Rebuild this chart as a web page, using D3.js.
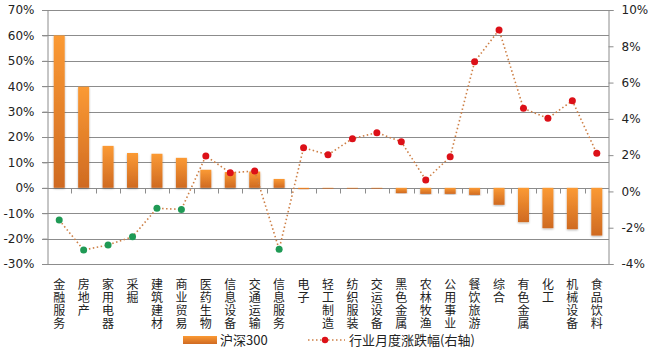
<!DOCTYPE html>
<html lang="zh">
<head>
  <meta charset="UTF-8">
  <title>行业月度涨跌幅</title>
  <script src="https://d3js.org/d3.v7.min.js"></script>
  <style>
    body { margin: 0; background: #fff; }
    svg { display: block; }
    .tick text { font-family: "DejaVu Sans", sans-serif; font-size: 12px; fill: #222; }
    .cat { font-family: "Noto Sans CJK SC", sans-serif; font-size: 12px; fill: #222; }
    .leg { font-family: "Noto Sans CJK SC", sans-serif; font-size: 13px; fill: #222; }
  </style>
</head>
<body>
<svg width="650" height="350"></svg>

<script>
  const categories = ["金融服务", "房地产", "家用电器", "采掘", "建筑建材", "商业贸易", "医药生物",
    "信息设备", "交通运输", "信息服务", "电子", "轻工制造", "纺织服装", "交运设备", "黑色金属",
    "农林牧渔", "公用事业", "餐饮旅游", "综合", "有色金属", "化工", "机械设备", "食品饮料"];

  // 沪深300 (left axis)
  const hs300 = [0.600, 0.398, 0.165, 0.137, 0.134, 0.118, 0.071, 0.062, 0.064, 0.035, -0.005,
    -0.001, -0.003, -0.003, -0.021, -0.024, -0.024, -0.028, -0.067, -0.135, -0.159, -0.163, -0.188];

  // 行业月度涨跌幅 (right axis)
  const monthly = [-0.0158, -0.0323, -0.0295, -0.025, -0.0093, -0.0099, 0.0195, 0.0103, 0.0112,
    -0.0319, 0.0241, 0.0202, 0.0291, 0.0324, 0.0274, 0.0063, 0.0191, 0.0715, 0.089, 0.0458,
    0.0403, 0.050, 0.021];

  const leftTicks = [-0.3, -0.2, -0.1, 0, 0.1, 0.2, 0.3, 0.4, 0.5, 0.6, 0.7];
  const rightTicks = [-0.04, -0.02, 0, 0.02, 0.04, 0.06, 0.08, 0.10];

  const svg = d3.select("svg");
  const plotL = 47, plotR = 609, plotT = 10, plotB = 264;

  const x = d3.scaleBand().domain(categories).range([plotL, plotR])
    .paddingInner(0.55).paddingOuter(0.275);
  const step = x.step();
  const y = d3.scaleLinear().domain([-0.3, 0.7]).range([plotB, plotT]);
  const y2 = d3.scaleLinear().domain([-0.04, 0.10]).range([plotB, plotT]);
  const pct = d => d3.format(".0%")(d).replace("−", "-");

  const defs = svg.append("defs");
  const grad = defs.append("linearGradient").attr("id", "barGrad")
    .attr("x1", 0).attr("y1", 0).attr("x2", 0).attr("y2", 1);
  grad.append("stop").attr("offset", "0%").attr("stop-color", "#fb9a34");
  grad.append("stop").attr("offset", "100%").attr("stop-color", "#cf6a22");

  const shadow = defs.append("filter").attr("id", "glow")
    .attr("x", "-50%").attr("y", "-10%").attr("width", "200%").attr("height", "120%");
  shadow.append("feGaussianBlur").attr("in", "SourceAlpha").attr("stdDeviation", 1.2).attr("result", "b");
  shadow.append("feOffset").attr("in", "b").attr("dy", 1).attr("result", "o");
  shadow.append("feComponentTransfer").attr("in", "o").attr("result", "s")
    .append("feFuncA").attr("type", "linear").attr("slope", 0.3);
  const merge = shadow.append("feMerge");
  merge.append("feMergeNode").attr("in", "s");
  merge.append("feMergeNode").attr("in", "SourceGraphic");

  // gridlines
  svg.append("g").selectAll("line").data(leftTicks).join("line")
    .attr("x1", plotL - 5).attr("x2", plotR)
    .attr("y1", d => Math.round(y(d)) + 0.5).attr("y2", d => Math.round(y(d)) + 0.5)
    .attr("stroke", "#8c8c8c");

  // left axis
  const yAxis = svg.append("g").attr("transform", `translate(${plotL + 0.5},0)`)
    .call(d3.axisLeft(y).tickValues(leftTicks).tickFormat(pct).tickSize(5).tickPadding(8));
  yAxis.selectAll("path, line").attr("stroke", "#8c8c8c");

  // right axis
  const y2Axis = svg.append("g").attr("transform", `translate(${plotR - 0.5},0)`)
    .call(d3.axisRight(y2).tickValues(rightTicks).tickFormat(pct).tickSize(5).tickPadding(8));
  y2Axis.selectAll("path, line").attr("stroke", "#8c8c8c");

  // category ticks on zero line
  const y0 = Math.round(y(0)) + 0.5;
  svg.append("g").selectAll("line").data(categories.slice(1)).join("line")
    .attr("x1", d => Math.round(x(d) - (step - x.bandwidth()) / 2) + 0.5)
    .attr("x2", d => Math.round(x(d) - (step - x.bandwidth()) / 2) + 0.5)
    .attr("y1", y0).attr("y2", y0 + 5)
    .attr("stroke", "#8c8c8c");

  // bars
  svg.append("g").selectAll("rect").data(categories).join("rect")
    .attr("x", d => x(d))
    .attr("width", x.bandwidth())
    .attr("y", (d, i) => y(Math.max(0, hs300[i])))
    .attr("height", (d, i) => Math.max(0.8, Math.abs(y(hs300[i]) - y(0))))
    .attr("fill", "url(#barGrad)")
    .attr("filter", "url(#glow)");

  // line on right axis
  const cx = d => x(d) + x.bandwidth() / 2;
  const line = d3.line().x(d => cx(d)).y((d, i) => y2(monthly[i]));
  svg.append("path").datum(categories)
    .attr("d", line)
    .attr("fill", "none")
    .attr("stroke", "#cd7f45")
    .attr("stroke-width", 1.6)
    .attr("stroke-dasharray", "1.5,2.5");

  svg.append("g").selectAll("circle").data(categories).join("circle")
    .attr("cx", cx)
    .attr("cy", (d, i) => y2(monthly[i]))
    .attr("r", 3.5)
    .attr("fill", (d, i) => monthly[i] >= 0 ? "#dc1018" : "#1f9a55");

  // category labels, one character per line
  const labels = svg.append("g").selectAll("text").data(categories).join("text")
    .attr("class", "cat")
    .attr("text-anchor", "middle");
  labels.selectAll("tspan").data(d => Array.from(d).map(c => ({ c, key: d }))).join("tspan")
    .attr("x", d => cx(d.key))
    .attr("y", (d, i) => 289 + i * 13)
    .text(d => d.c);

  // legend
  const lg = svg.append("g");
  lg.append("rect").attr("x", 183).attr("y", 336).attr("width", 34).attr("height", 8)
    .attr("fill", "url(#barGrad)");
  lg.append("text").attr("class", "leg").attr("x", 220).attr("y", 345).text("沪深300");
  lg.append("line").attr("x1", 308).attr("x2", 345).attr("y1", 340).attr("y2", 340)
    .attr("stroke", "#cd7f45").attr("stroke-width", 1.6).attr("stroke-dasharray", "1.5,2.5");
  lg.append("circle").attr("cx", 325).attr("cy", 340).attr("r", 3.2).attr("fill", "#dc1018");
  lg.append("text").attr("class", "leg").attr("x", 349).attr("y", 345).text("行业月度涨跌幅(右轴)");
</script>
</body>
</html>
